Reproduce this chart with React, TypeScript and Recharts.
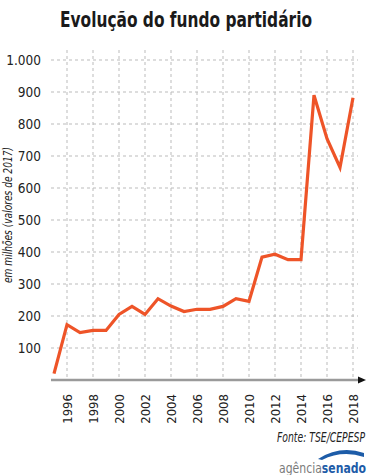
import { LineChart, Line, XAxis, YAxis, CartesianGrid } from 'recharts';

// Fundo partidário, em milhões (valores de 2017)
const years = [
  1995, 1996, 1997, 1998, 1999, 2000, 2001, 2002, 2003, 2004, 2005, 2006,
  2007, 2008, 2009, 2010, 2011, 2012, 2013, 2014, 2015, 2016, 2017, 2018,
];
const fundValues = [
  20, 173, 148, 155, 155, 205, 230, 205, 254, 231, 214, 221,
  221, 230, 254, 246, 384, 393, 376, 376, 890, 754, 664, 882,
];
const yearTicks = [1996, 1998, 2000, 2002, 2004, 2006, 2008, 2010, 2012, 2014, 2016, 2018];
const valueTicks = [100, 200, 300, 400, 500, 600, 700, 800, 900, 1000];

const FONT = '"DejaVu Sans Condensed", "Liberation Sans Narrow", "Roboto", sans-serif';
const LINE_COLOR = '#ee5428';

const data = years.map((year, i) => ({ year, value: fundValues[i] }));

function YearTick({ x, y, payload }: any) {
  return (
    <text
      x={x}
      y={y}
      transform={`rotate(-90, ${x}, ${y})`}
      dx={-6}
      dy={5}
      textAnchor="end"
      fontFamily={FONT}
      fontSize={13}
      fill="#222"
    >
      {payload.value}
    </text>
  );
}

const formatValue = (v: number) => (v >= 1000 ? v.toLocaleString('pt-BR') : String(v));

export default function App() {
  return (
    <div
      style={{
        position: 'fixed',
        top: 0,
        left: 0,
        width: 367,
        height: 475,
        background: '#fff',
        fontFamily: FONT,
      }}
    >
      <svg width={0} height={0} style={{ position: 'absolute' }}>
        <defs>
          <marker id="axisArrow" markerWidth="8" markerHeight="8" refX="0" refY="4" orient="auto" markerUnits="userSpaceOnUse">
            <path d="M0,0.5 L8,4 L0,7.5 Z" fill="#111" />
          </marker>
        </defs>
      </svg>

      <LineChart
        width={367}
        height={475}
        data={data}
        margin={{ top: 50, right: 9, left: 0, bottom: 0 }}
      >
        <CartesianGrid stroke="#bbb" strokeDasharray="3 3" verticalValues={yearTicks} horizontalValues={valueTicks} />
        <XAxis
          dataKey="year"
          type="number"
          domain={[1995, 2018]}
          ticks={yearTicks}
          padding={{ left: 3, right: 5 }}
          height={95}
          tickLine={false}
          axisLine={{ stroke: '#9a9a9a', strokeWidth: 2.5, markerEnd: 'url(#axisArrow)' }}
          tick={<YearTick />}
          interval={0}
        />
        <YAxis
          type="number"
          domain={[0, 1000]}
          ticks={valueTicks}
          width={51}
          padding={{ top: 10 }}
          tickLine={false}
          axisLine={false}
          tickMargin={4}
          tickFormatter={formatValue}
          tick={{ fill: '#222', fontSize: 13.5, fontFamily: FONT }}
        />
        <Line
          type="linear"
          dataKey="value"
          stroke={LINE_COLOR}
          strokeWidth={3.2}
          dot={false}
          isAnimationActive={false}
        />
      </LineChart>

      <svg width={367} height={475} style={{ position: 'absolute', top: 0, left: 0, pointerEvents: 'none' }}>
        <text
          x={60}
          y={27}
          textLength={252}
          lengthAdjust="spacingAndGlyphs"
          fontFamily={FONT}
          fontWeight="bold"
          fontSize={22}
          fill="#1a1a1a"
        >
          Evolução do fundo partidário
        </text>
        <text
          x={12}
          y={283}
          transform="rotate(-90, 12, 283)"
          textLength={136}
          lengthAdjust="spacingAndGlyphs"
          fontFamily={FONT}
          fontStyle="italic"
          fontSize={12.5}
          fill="#222"
        >
          em milhões (valores de 2017)
        </text>
        <text
          x={277}
          y={442}
          textLength={88}
          lengthAdjust="spacingAndGlyphs"
          fontFamily={FONT}
          fontStyle="italic"
          fontSize={13.5}
          fill="#222"
        >
          Fonte: TSE/CEPESP
        </text>
        <path d="M318,459 Q340,445 364,453 L364,457 Q342,450 322,460 Z" fill="#1d5ca8" />
        <text x={279} y={473} textLength={87} lengthAdjust="spacingAndGlyphs" fontFamily={FONT} fontSize={14.5}>
          <tspan fill="#7a7a7a">agência</tspan>
          <tspan fill="#1d5ca8" fontWeight="bold">senado</tspan>
        </text>
      </svg>
    </div>
  );
}
